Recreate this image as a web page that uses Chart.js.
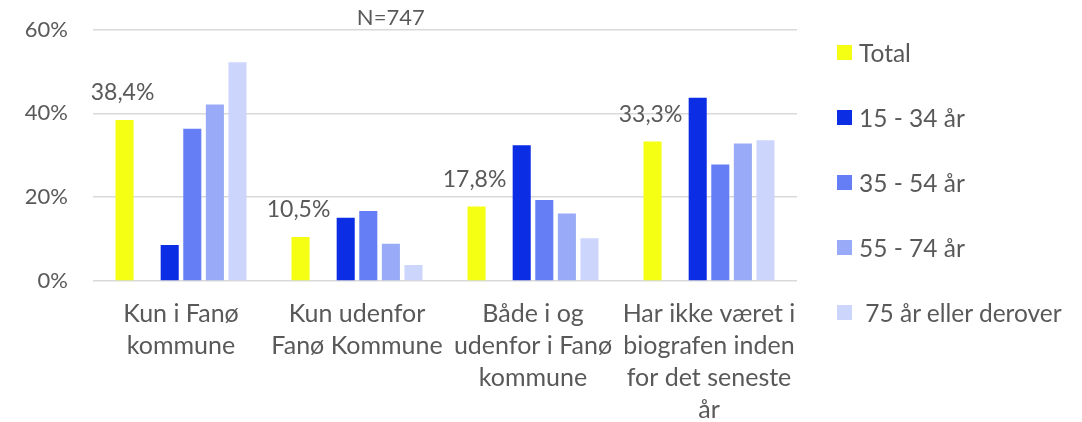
<!DOCTYPE html>
<html>
<head>
<meta charset="utf-8">
<script src="https://cdn.jsdelivr.net/npm/chart.js@4"></script>
<style>
  html, body { margin: 0; padding: 0; background: #fff; }
  #wrap { position: relative; width: 1082px; height: 422px; }
  #legend { position: absolute; left: 837px; top: 0; font: 24.5px Lato, sans-serif; color: #595959; }
  .lg-item { position: absolute; left: 0; white-space: pre; display: flex; align-items: center; height: 30px; }
  .lg-box { width: 15px; height: 15px; margin-right: 7px; flex: none; }
</style>
</head>
<body>
<div id="wrap">
  <canvas id="chart" width="1082" height="422"></canvas>
  <div id="legend"></div>
</div>
<script>
const categories = [
  ["Kun i Fanø", "kommune"],
  ["Kun udenfor", "Fanø Kommune"],
  ["Både i og", "udenfor i Fanø", "kommune"],
  ["Har ikke været i", "biografen inden", "for det seneste", "år"],
];
const seriesNames = ["Total", "15 - 34 år", "35 - 54 år", "55 - 74 år", " 75 år eller derover"];
const total = [38.4, 10.5, 17.8, 33.3];
const age15to34 = [8.6, 15.1, 32.4, 43.7];
const age35to54 = [36.3, 16.7, 19.3, 27.8];
const age55to74 = [42.1, 8.9, 16.1, 32.8];
const age75plus = [52.2, 3.8, 10.2, 33.6];
const yTicks = [0, 20, 40, 60];
const note = "N=747";

const colors = ["#F4FF14", "#0B2DE3", "#667EF5", "#99AAF8", "#CCD5FC"];
const FONT = "Lato, sans-serif";
const GREY = "#595959";

const seriesData = [total, age15to34, age35to54, age55to74, age75plus];
const datasets = [];
seriesData.forEach((d, i) => {
  datasets.push({ label: seriesNames[i], data: d, backgroundColor: colors[i], showValue: i === 0 });
  // blank slot between Total and the age groups
  if (i === 0) datasets.push({ label: "", data: categories.map(() => null), backgroundColor: "transparent" });
});

const fmtPct = v => v.toFixed(1).replace(".", ",") + "%";

const extras = {
  id: "extras",
  afterDatasetsDraw(chart) {
    const ctx = chart.ctx;
    ctx.save();
    ctx.fillStyle = GREY;
    ctx.font = "23px " + FONT;
    ctx.textAlign = "center";
    ctx.textBaseline = "middle";
    chart.data.datasets.forEach((ds, i) => {
      if (!ds.showValue) return;
      chart.getDatasetMeta(i).data.forEach((bar, j) => {
        ctx.fillText(fmtPct(ds.data[j]), bar.x - 2, bar.y - 27);
      });
    });
    const a = chart.chartArea;
    ctx.font = "22px " + FONT;
    ctx.fillText(note, a.left + (a.right - a.left) * 0.423, 18);
    ctx.restore();
  }
};

new Chart(document.getElementById("chart"), {
  type: "bar",
  data: { labels: categories, datasets },
  options: {
    responsive: false,
    animation: false,
    layout: { padding: { top: 29.5, right: 285, left: 0, bottom: 0 } },
    datasets: { bar: { categoryPercentage: 0.77, barPercentage: 0.8 } },
    plugins: { legend: { display: false }, tooltip: { enabled: false } },
    scales: {
      x: {
        grid: { display: false, drawTicks: false },
        border: { display: false },
        ticks: { color: GREY, font: { family: FONT, size: 25, lineHeight: "32px" }, padding: 17, maxRotation: 0, autoSkip: false },
        afterFit: s => { s.height = 141; },
      },
      y: {
        min: 0, max: 60,
        afterBuildTicks: s => { s.ticks = yTicks.map(v => ({ value: v })); },
        grid: { color: "#D9D9D9", lineWidth: 1.5, drawTicks: true, tickLength: 22, tickColor: "transparent" },
        border: { display: false },
        ticks: { color: GREY, font: { family: FONT, size: 22 }, padding: 3, callback: v => v + "%" },
        afterFit: s => { s.width = 93; },
      },
    },
  },
  plugins: [extras],
});

const legend = document.getElementById("legend");
const legendY = [52, 117, 182, 247, 312];
seriesNames.forEach((name, i) => {
  const item = document.createElement("div");
  item.className = "lg-item";
  item.style.top = (legendY[i] - 15) + "px";
  item.innerHTML = `<span class="lg-box" style="background:${colors[i]}"></span><span>${name}</span>`;
  legend.appendChild(item);
});
</script>
</body>
</html>
